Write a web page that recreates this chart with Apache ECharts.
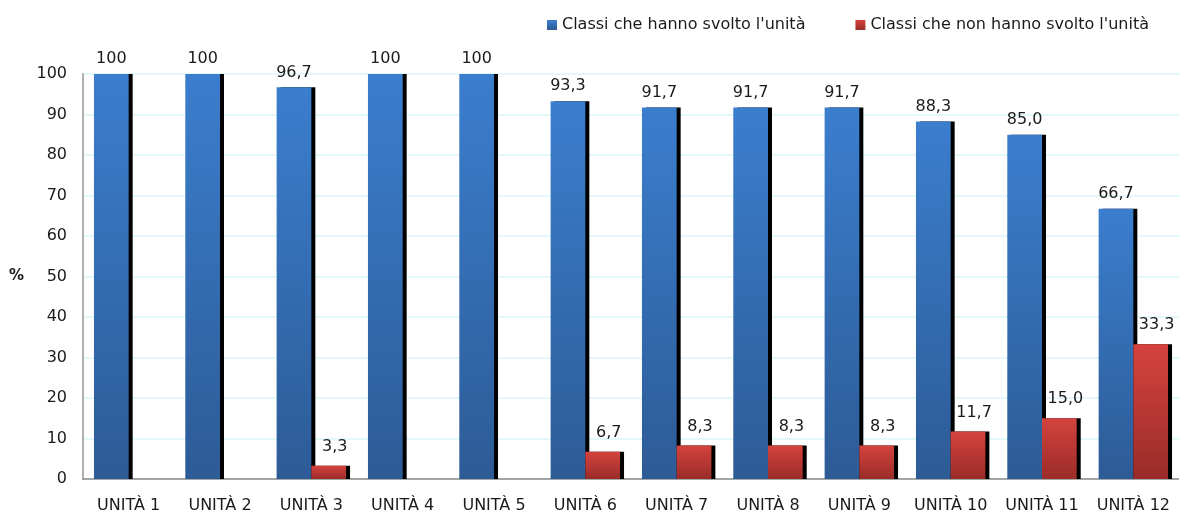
<!DOCTYPE html>
<html>
<head>
<meta charset="utf-8">
<script src="https://cdn.jsdelivr.net/npm/echarts@6/dist/echarts.min.js"></script>
<style>
html, body { margin: 0; padding: 0; background: #fff; }
#main { width: 1179px; height: 515px; }
</style>
</head>
<body>
<div id="main"></div>
<script>
// dati
const categories = ['UNITÀ 1', 'UNITÀ 2', 'UNITÀ 3', 'UNITÀ 4', 'UNITÀ 5', 'UNITÀ 6',
    'UNITÀ 7', 'UNITÀ 8', 'UNITÀ 9', 'UNITÀ 10', 'UNITÀ 11', 'UNITÀ 12'];
const svolto = [100, 100, 96.7, 100, 100, 93.3, 91.7, 91.7, 91.7, 88.3, 85.0, 66.7];
const nonSvolto = [null, null, 3.3, null, null, 6.7, 8.3, 8.3, 8.3, 11.7, 15.0, 33.3];
const yTicks = [0, 10, 20, 30, 40, 50, 60, 70, 80, 90, 100];

const fontFam = '"DejaVu Sans", sans-serif';
const chart = echarts.init(document.getElementById('main'));

function fmt(v) {
    // 100 senza decimali, il resto con la virgola
    if (v === 100) return '100';
    return v.toFixed(1).replace('.', ',');
}

function grad(top, bottom) {
    return new echarts.graphic.LinearGradient(0, 0, 0, 1, [
        { offset: 0, color: top },
        { offset: 1, color: bottom }
    ]);
}

chart.setOption({
    animation: false,
    textStyle: { fontFamily: fontFam, color: '#1a1a1a' },
    legend: {
        top: 12,
        left: 542,
        itemWidth: 10,
        itemHeight: 10,
        itemGap: 50,
        icon: 'rect',
        textStyle: { fontSize: 16, color: '#1a1a1a', fontFamily: fontFam },
        data: ["Classi che hanno svolto l'unità", "Classi che non hanno svolto l'unità"]
    },
    grid: { left: 83, right: 0, top: 74, bottom: 36 },
    xAxis: {
        type: 'category',
        data: categories,
        axisTick: { show: false },
        axisLine: { lineStyle: { color: '#8c8c8c', width: 1.5 } },
        axisLabel: { fontSize: 16, color: '#1a1a1a', margin: 19, interval: 0 }
    },
    yAxis: {
        type: 'value',
        min: yTicks[0],
        max: yTicks[yTicks.length - 1],
        interval: 10,
        name: '%',
        nameLocation: 'middle',
        nameRotate: 0,
        nameGap: 59,
        nameTextStyle: { fontSize: 15, fontWeight: 'bold', color: '#1a1a1a' },
        axisLine: { show: true, lineStyle: { color: '#b0b0b0', width: 2 } },
        axisTick: { show: false },
        axisLabel: { fontSize: 16, color: '#1a1a1a', margin: 16 },
        splitLine: { lineStyle: { color: '#d8f6f8', width: 1.5 } }
    },
    series: [
        {
            name: "Classi che hanno svolto l'unità",
            type: 'bar',
            data: svolto,
            barGap: '0%',
            barCategoryGap: '24%',
            itemStyle: {
                color: grad('#3b7ece', '#2d5b96'),
                shadowColor: '#000',
                shadowOffsetX: 4,
                shadowOffsetY: 0,
                shadowBlur: 0
            },
            label: {
                show: true,
                position: 'top',
                distance: 7,
                fontSize: 16,
                color: '#1a1a1a',
                formatter: p => fmt(p.value)
            }
        },
        {
            name: "Classi che non hanno svolto l'unità",
            type: 'bar',
            data: nonSvolto,
            itemStyle: {
                color: grad('#d5433d', '#9a2c29'),
                shadowColor: '#000',
                shadowOffsetX: 4,
                shadowOffsetY: 0,
                shadowBlur: 0
            },
            label: {
                show: true,
                position: 'top',
                distance: 11,
                offset: [6, 0],
                fontSize: 16,
                color: '#1a1a1a',
                formatter: p => fmt(p.value)
            }
        }
    ]
});
</script>
</body>
</html>
